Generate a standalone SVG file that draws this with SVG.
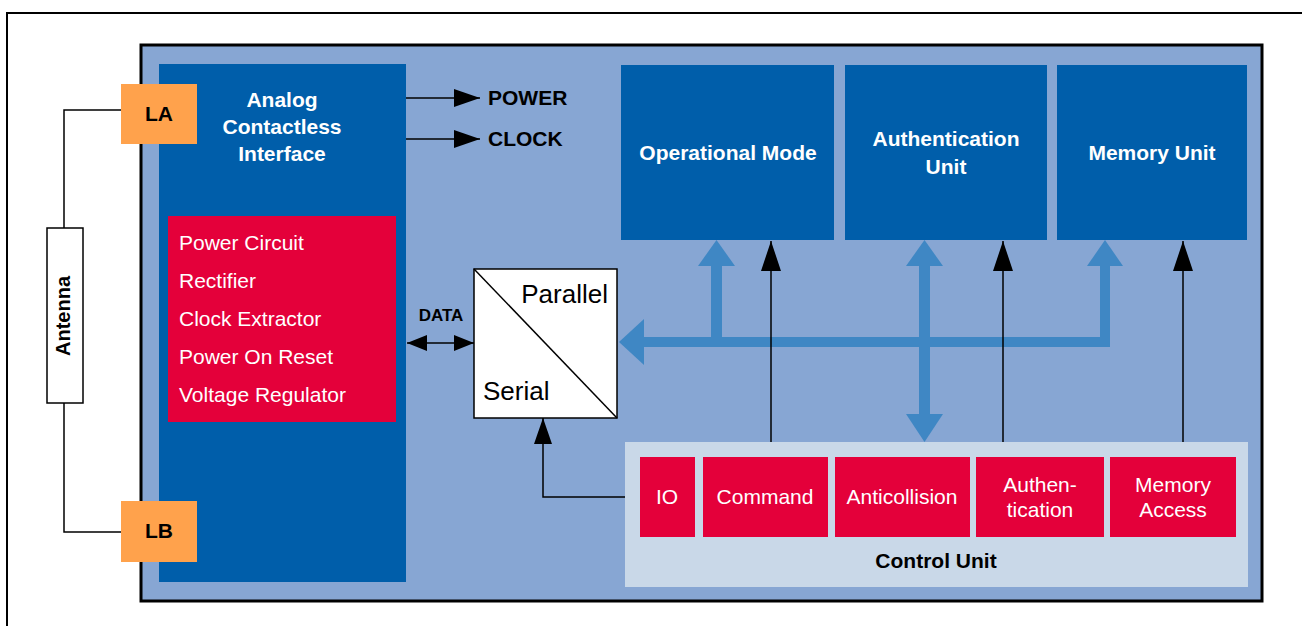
<svg xmlns="http://www.w3.org/2000/svg" width="1302" height="626" viewBox="0 0 1302 626">
<defs>
<style>
.t{font-family:"Liberation Sans",Arial,sans-serif}
.wb{fill:#fff;font-weight:bold;font-size:21px;text-anchor:middle}
.w{fill:#fff;font-size:21px}
.wc{fill:#fff;font-size:21px;text-anchor:middle}
.kb{fill:#000;font-weight:bold}
.red{fill:#E4003A}
.dk{fill:#005EAA}
.bus{fill:#3F87C4}
.ln{stroke:#000;stroke-width:1.5;fill:none}
</style>
<marker id="ah" viewBox="0 0 30 20" refX="30" refY="10" markerWidth="30" markerHeight="20" markerUnits="userSpaceOnUse" orient="auto-start-reverse">
<path d="M0,0 L30,10 L0,20 Z" fill="#000"/>
</marker>
<marker id="ahs" viewBox="0 0 20 16" refX="20" refY="8" markerWidth="20" markerHeight="16" markerUnits="userSpaceOnUse" orient="auto-start-reverse">
<path d="M0,0 L20,8 L0,16 Z" fill="#000"/>
</marker>
<marker id="ahm" viewBox="0 0 26 18" refX="26" refY="9" markerWidth="26" markerHeight="18" markerUnits="userSpaceOnUse" orient="auto-start-reverse">
<path d="M0,0 L26,9 L0,18 Z" fill="#000"/>
</marker>
</defs>
<rect x="0" y="0" width="1302" height="626" fill="#fff"/>
<rect id="frame" x="7" y="13" width="1300" height="700" fill="none" stroke="#000" stroke-width="2"/>
<g id="chip">
<rect x="141" y="45" width="1121" height="556" fill="#87A6D3" stroke="#000" stroke-width="3"/>
</g>
<g id="analog">
<rect class="dk" x="159" y="64" width="247" height="518"/>
<text class="t wb" x="282" y="107">Analog</text>
<text class="t wb" x="282" y="134">Contactless</text>
<text class="t wb" x="282" y="161">Interface</text>
</g>
<g id="power-block">
<rect class="red" x="168" y="216" width="228" height="206"/>
<text class="t w" x="179" y="250">Power Circuit</text>
<text class="t w" x="179" y="288">Rectifier</text>
<text class="t w" x="179" y="326">Clock Extractor</text>
<text class="t w" x="179" y="364">Power On Reset</text>
<text class="t w" x="179" y="402">Voltage Regulator</text>
</g>
<g id="connectors">
<polyline class="ln" points="121,110 64,110 64,228"/>
<polyline class="ln" points="64,403 64,532 121,532"/>
<line class="ln" x1="406" y1="98" x2="480" y2="98" marker-end="url(#ahm)"/>
<line class="ln" x1="406" y1="139" x2="480" y2="139" marker-end="url(#ahm)"/>
<line class="ln" x1="407" y1="343" x2="474" y2="343" marker-start="url(#ahs)" marker-end="url(#ahs)"/>
<polyline class="ln" points="640,497 543,497 543,418" marker-end="url(#ahm)"/>
<g id="bus">
<rect class="bus" x="640" y="337" width="470" height="10"/>
<polygon class="bus" points="619,342 644,319 644,365"/>
<rect class="bus" x="711" y="264" width="11" height="78"/>
<polygon class="bus" points="716.5,240 698,266 735,266"/>
<rect class="bus" x="919" y="264" width="11" height="152"/>
<polygon class="bus" points="924.5,240 906,266 943,266"/>
<polygon class="bus" points="924.5,442 906,414 943,414"/>
<rect class="bus" x="1100" y="264" width="10" height="83"/>
<polygon class="bus" points="1105,240 1087,266 1123,266"/>
</g>
<line class="ln" x1="771" y1="457" x2="771" y2="241" marker-end="url(#ah)"/>
<line class="ln" x1="1003" y1="457" x2="1003" y2="241" marker-end="url(#ah)"/>
<line class="ln" x1="1183" y1="457" x2="1183" y2="241" marker-end="url(#ah)"/>
</g>
<g id="labels">
<text class="t kb" x="488" y="105" font-size="21">POWER</text>
<text class="t kb" x="488" y="146" font-size="21">CLOCK</text>
<text class="t kb" x="441" y="321" font-size="17" text-anchor="middle">DATA</text>
</g>
<g id="antenna">
<rect x="47" y="228" width="36" height="175" fill="#fff" stroke="#000" stroke-width="1.5"/>
<text class="t kb" font-size="20" text-anchor="middle" transform="translate(70,316) rotate(-90)">Antenna</text>
</g>
<g id="LA">
<rect x="121" y="84" width="76" height="60" fill="#FFA24C"/>
<text class="t kb" x="159" y="121" font-size="21" text-anchor="middle">LA</text>
</g>
<g id="LB">
<rect x="121" y="501" width="76" height="61" fill="#FFA24C"/>
<text class="t kb" x="159" y="538" font-size="21" text-anchor="middle">LB</text>
</g>
<g id="converter">
<rect x="474" y="269" width="143" height="149" fill="#fff" stroke="#000" stroke-width="1.5"/>
<line x1="474" y1="269" x2="617" y2="418" stroke="#000" stroke-width="1.5"/>
<text class="t" x="608" y="303" font-size="26" text-anchor="end">Parallel</text>
<text class="t" x="483" y="400" font-size="26">Serial</text>
</g>
<g id="opmode">
<rect class="dk" x="621" y="65" width="213" height="175"/>
<text class="t wb" x="728" y="160">Operational Mode</text>
</g>
<g id="authunit">
<rect class="dk" x="845" y="65" width="202" height="175"/>
<text class="t wb" x="946" y="146">Authentication</text>
<text class="t wb" x="946" y="174">Unit</text>
</g>
<g id="memunit">
<rect class="dk" x="1057" y="65" width="190" height="175"/>
<text class="t wb" x="1152" y="160">Memory Unit</text>
</g>
<g id="control">
<rect x="625" y="442" width="623" height="145" fill="#C9D8E8"/>
<text class="t kb" x="936" y="568" font-size="21" text-anchor="middle">Control Unit</text>
</g>
<g id="io">
<rect class="red" x="640" y="457" width="55" height="80"/>
<text class="t wc" x="667" y="504">IO</text>
</g>
<g id="command">
<rect class="red" x="703" y="457" width="125" height="80"/>
<text class="t wc" x="765" y="504">Command</text>
</g>
<g id="anticollision">
<rect class="red" x="835" y="457" width="135" height="80"/>
<text class="t wc" x="902" y="504">Anticollision</text>
</g>
<g id="authentication">
<rect class="red" x="976" y="457" width="128" height="80"/>
<text class="t wc" x="1040" y="492">Authen-</text>
<text class="t wc" x="1040" y="517">tication</text>
</g>
<g id="memaccess">
<rect class="red" x="1110" y="457" width="126" height="80"/>
<text class="t wc" x="1173" y="492">Memory</text>
<text class="t wc" x="1173" y="517">Access</text>
</g>
</svg>
